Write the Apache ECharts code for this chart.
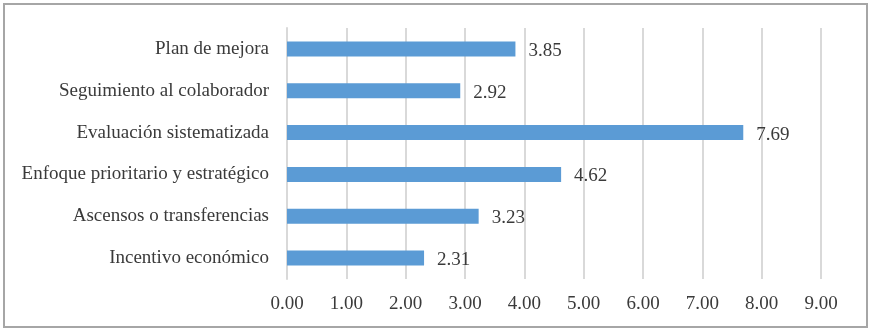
<!DOCTYPE html>
<html>
<head>
<meta charset="utf-8">
<script src="https://cdn.jsdelivr.net/npm/echarts@6/dist/echarts.min.js"></script>
<style>
  html, body { margin: 0; padding: 0; background: #fff; }
  #chart { width: 872px; height: 335px; }
  #frame { position: absolute; left: 3px; top: 3px; width: 861px; height: 321px; border: 2px solid #a6a6a6; pointer-events: none; }
</style>
</head>
<body>
<div id="chart"></div>
<div id="frame"></div>
<script>
// top to bottom as in the picture
const categories = [
  'Plan de mejora',
  'Seguimiento al colaborador',
  'Evaluación sistematizada',
  'Enfoque prioritario y estratégico',
  'Ascensos o transferencias',
  'Incentivo económico'
];
const values = [3.85, 2.92, 7.69, 4.62, 3.23, 2.31];
const xTicks = [0, 1, 2, 3, 4, 5, 6, 7, 8, 9];

const font = '"Liberation Serif", "Times New Roman", serif';
const chart = echarts.init(document.getElementById('chart'));

chart.setOption({
  animation: false,
  textStyle: { fontFamily: font },
  grid: { left: 287, right: 51, top: 28, bottom: 56 },
  xAxis: {
    type: 'value',
    min: xTicks[0],
    max: xTicks[xTicks.length - 1],
    interval: 1,
    axisLine: { show: false },
    axisTick: { show: false },
    splitLine: { lineStyle: { color: '#d9d9d9', width: 2 } },
    axisLabel: {
      color: '#3a3a3a',
      fontFamily: font,
      fontSize: 19,
      margin: 16,
      formatter: v => v.toFixed(2)
    }
  },
  yAxis: {
    type: 'category',
    data: categories.slice().reverse(),
    axisLine: { lineStyle: { color: '#d9d9d9', width: 2 } },
    axisTick: { show: false },
    axisLabel: { color: '#3a3a3a', fontFamily: font, fontSize: 19, margin: 18 }
  },
  series: [{
    type: 'bar',
    data: values.slice().reverse(),
    barWidth: 15,
    itemStyle: { color: '#5b9bd5' },
    label: {
      show: true,
      position: 'right',
      distance: 13,
      offset: [0, 2],
      color: '#3a3a3a',
      fontFamily: font,
      fontSize: 19,
      formatter: p => p.value.toFixed(2)
    }
  }]
});
</script>
</body>
</html>
